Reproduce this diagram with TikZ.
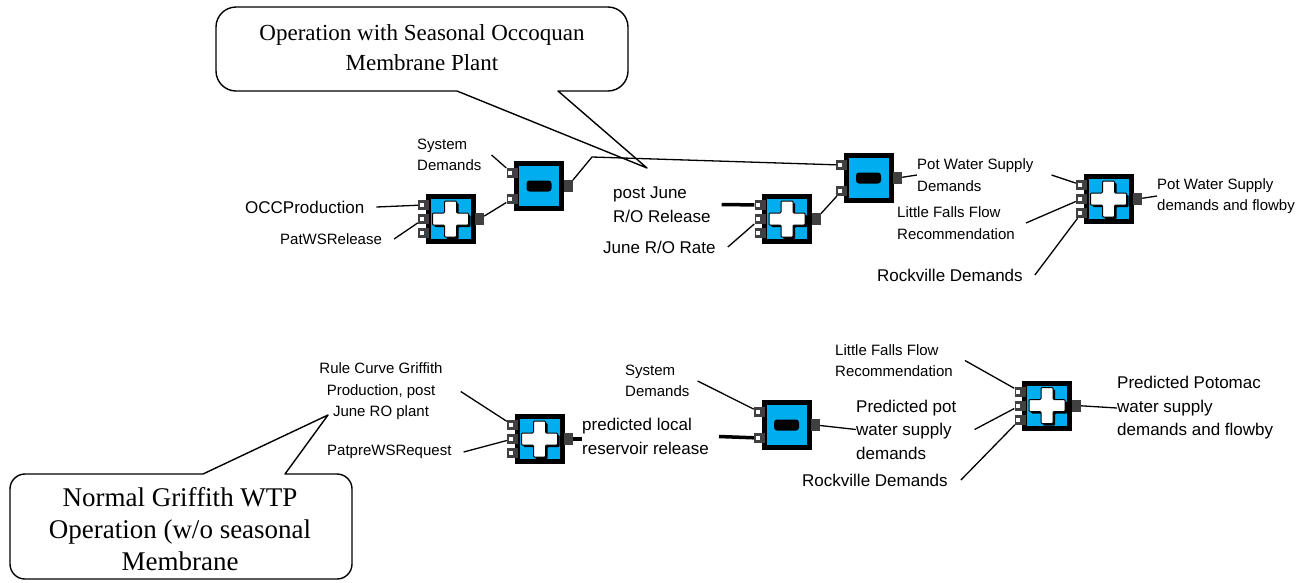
\documentclass[tikz,border=0pt]{standalone}
\usepackage{fontspec}
\setmainfont{Liberation Sans}
\newfontfamily\notefont{Liberation Serif}
\usepackage{tikz}
\usetikzlibrary{backgrounds}

\definecolor{opblue}{RGB}{0,174,239}
\definecolor{portgray}{RGB}{64,64,64}

\newcommand{\plusoutline}{(-18,-6) -- (-6,-6) -- (-6,-18) -- (6,-18) -- (6,-6) -- (18,-6) -- (18,6) -- (6,6) -- (6,18) -- (-6,18) -- (-6,6) -- (-18,6) -- cycle}

\begin{document}
\begin{tikzpicture} [
    x=1pt, y=-1pt,
    opbox/.style = {draw=black, line width=5pt, fill=opblue, minimum size=45pt, inner sep=0pt},
    inport/.style = {fill=portgray, minimum width=11pt, minimum height=10pt, inner sep=0pt,
        path picture={\fill[white] ([shift={(1.5pt,-2pt)}]path picture bounding box.west) rectangle ++(4pt,4pt);}},
    outport/.style = {fill=portgray, minimum width=9pt, minimum height=12pt, inner sep=0pt},
    lbl/.style = {inner sep=0pt, align=left, font=\fontsize{15}{21.5}\selectfont},
    biglbl/.style = {inner sep=0pt, align=left, font=\fontsize{17}{23.5}\selectfont},
    note/.style = {inner sep=0pt, align=center, font=\notefont\fontsize{23}{30}\selectfont},
    bignote/.style = {inner sep=0pt, align=center, font=\notefont\fontsize{27}{32}\selectfont},
    callout/.style = {draw=black, line width=1.4pt, line join=round},
    wire/.style = {draw=black, line width=1.3pt},
    thickwire/.style = {draw=black, line width=3.5pt},
    plusop/.pic = {
        \node[opbox] (-box) at (0,0) {};
        \fill[black, rounded corners=1pt, shift={(2,2)}] \plusoutline;
        \filldraw[fill=white, draw=black, line width=1pt, rounded corners=1pt] \plusoutline;
        \node[inport] (-in1) at (-27,-14) {};
        \node[inport] (-in2) at (-27,0) {};
        \node[inport] (-in3) at (-27,14) {};
        \node[outport] (-out) at (29,0) {};
    },
    minusop/.pic = {
        \node[opbox] (-box) at (0,0) {};
        \fill[black, rounded corners=3pt] (-12.5,-5.5) rectangle (12.5,5.5);
        \node[inport] (-in1) at (-27,-13) {};
        \node[inport] (-in2) at (-27,13) {};
        \node[outport] (-out) at (29,0) {};
    }
]
    \useasboundingbox (0,0) rectangle (1311,582);

    % callouts
    \draw[callout] (457,91) -- (647,168) -- (558,91) -- (608,91) .. controls (619,91) and (628,82) .. (628,71)
        -- (628,27) .. controls (628,16) and (619,7) .. (608,7) -- (236,7) .. controls (225,7) and (216,16) .. (216,27)
        -- (216,71) .. controls (216,82) and (225,91) .. (236,91) -- cycle;
    \node[note] (topnote) at (422,48) {Operation with Seasonal Occoquan\\Membrane Plant};

    \draw[callout] (203,474) -- (328,415) -- (285,474) -- (337,474) .. controls (345.3,474) and (352,480.7) .. (352,489)
        -- (352,564) .. controls (352,572.3) and (345.3,579) .. (337,579) -- (25,579) .. controls (16.7,579) and (10,572.3) .. (10,564)
        -- (10,489) .. controls (10,480.7) and (16.7,474) .. (25,474) -- cycle;
    \node[bignote] (botnote) at (180,529) {Normal Griffith WTP\\Operation (w/o seasonal\\Membrane};

    % blocks
    \pic (A) at (450.5,219) {plusop};
    \pic (B) at (539,186) {minusop};
    \pic (C) at (787,219) {plusop};
    \pic (D) at (868.5,178) {minusop};
    \pic (E) at (1108.5,199) {plusop};
    \pic (F) at (539.5,439) {plusop};
    \pic (G) at (786.5,425) {minusop};
    \pic (H) at (1047,405.5) {plusop};

    % labels, top row
    \node[lbl, anchor=west] (sysdemA) at (417,155) {System\\Demands};
    \node[biglbl, anchor=west] (occprod) at (245,207) {OCCProduction};
    \node[lbl, anchor=west] (patws) at (280,239) {PatWSRelease};
    \node[biglbl, anchor=west] (postjune) at (613,204.5) {post June\\R/O Release};
    \node[biglbl, anchor=west] (junerate) at (603,247) {June R/O Rate};
    \node[lbl, anchor=west] (potwsD) at (917,175) {Pot Water Supply\\Demands};
    \node[lbl, anchor=west] (lffE) at (897,223) {Little Falls Flow\\Recommendation};
    \node[biglbl, anchor=west] (rockE) at (877,275) {Rockville Demands};
    \node[lbl, anchor=west] (potwsE) at (1157,196) {Pot Water Supply\\demands and flowby};
    \coordinate (bendB) at (592,157);

    % labels, bottom row
    \node[lbl, align=center] (rulecurve) at (381,391.5) {Rule Curve Griffith\\Production, post\\June RO plant};
    \node[lbl, anchor=west] (patpre) at (327,452) {PatpreWSRequest};
    \node[biglbl, anchor=west] (predlocal) at (582,436.5) {predicted local\\reservoir release};
    \node[lbl, anchor=west] (sysdemG) at (625,381) {System\\Demands};
    \node[biglbl, anchor=west] (predpot) at (856,429.5) {Predicted pot\\water supply\\demands};
    \node[lbl, anchor=west] (lffH) at (835,360.5) {Little Falls Flow\\Recommendation};
    \node[biglbl, anchor=west] (rockH) at (802,480) {Rockville Demands};
    \node[biglbl, anchor=west] (predpotomac) at (1117,408) {Predicted Potomac\\water supply\\demands and flowby};

    % wires
    \begin{scope}[on background layer]
        \draw[wire] ([xshift=10pt]sysdemA.east) -- (B-in1);
        \draw[wire] ([xshift=12pt]occprod.east) -- (A-in1);
        \draw[wire] ([xshift=12pt]patws.east) -- (A-in2);
        \draw[wire] (A-out) -- (B-in2);
        \draw[wire] (B-out) -- (bendB) -- (D-in1);
        \draw[thickwire] ([xshift=11pt]postjune.east) -- (C-in1);
        \draw[wire] ([xshift=12pt]junerate.east) -- (C-in2);
        \draw[wire] (C-out) -- (D-in2);
        \draw[wire] (D-out) -- (potwsD.west);
        \draw[wire] ([xshift=18pt]potwsD.east) -- (E-in1);
        \draw[wire] ([xshift=11pt]lffE.east) -- (E-in2);
        \draw[wire] ([xshift=12pt]rockE.east) -- (E-in3);
        \draw[wire] (E-out) -- (potwsE.west);

        \draw[wire] ([xshift=18pt]rulecurve.east) -- (F-in1);
        \draw[wire] ([xshift=12pt]patpre.east) -- (F-in2);
        \draw[thickwire] (F-out) -- (F-out -| predlocal.west);
        \draw[thickwire] ([xshift=10pt]predlocal.east) -- (G-in2);
        \draw[wire] ([xshift=8pt]sysdemG.east) -- (G-in1);
        \draw[wire] (G-out) -- (predpot.west);
        \draw[wire] ([xshift=12pt]lffH.east) -- (H-in1);
        \draw[wire] ([xshift=18pt]predpot.east) -- (H-in2);
        \draw[wire] ([xshift=13pt]rockH.east) -- (H-in3);
        \draw[wire] (H-out) -- (predpotomac.west);
    \end{scope}
\end{tikzpicture}
\end{document}
